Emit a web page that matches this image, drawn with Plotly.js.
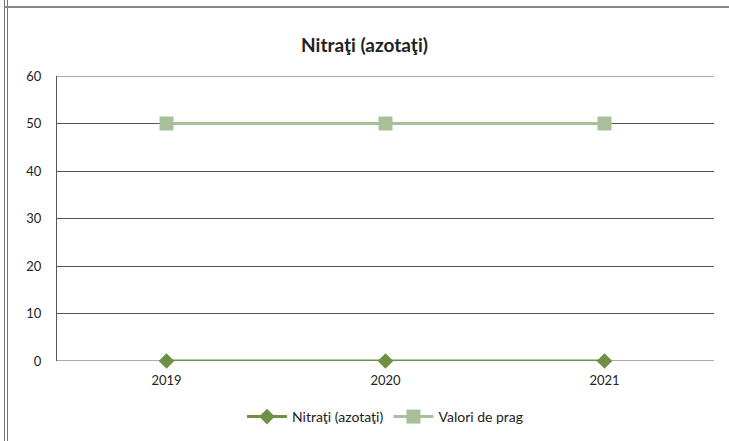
<!DOCTYPE html>
<html><head><meta charset="utf-8">
<script src="https://cdn.plot.ly/plotly-3.0.1.min.js"></script>
<style>html,body{margin:0;padding:0;background:#fff;}#wrap{position:relative;width:729px;height:441px;}
#c{position:absolute;left:0;top:0;width:729px;height:441px;}
.bl{position:absolute;left:4px;top:0;width:1px;height:441px;background:#777;}
.bl2{position:absolute;left:7px;top:0;width:1px;height:441px;background:#777;}
.bt{position:absolute;left:4px;top:6px;width:725px;height:2px;background:#888;}
</style></head>
<body><div id="wrap"><div id="c"></div><div class="bl"></div><div class="bl2"></div><div class="bt"></div></div>
<script>
const years = ['2019','2020','2021'];
const nitrati = [0, 0, 0];
const praguri = [50, 50, 50];
const yTicks = [0,10,20,30,40,50,60];

const font = 'Lato, "Open Sans", sans-serif';
const data = [
  {x: years, y: nitrati, name: 'Nitraţi (azotaţi)', type: 'scatter', mode: 'lines+markers', cliponaxis: false,
   line: {color: '#6f8f45', width: 3}, marker: {symbol: 'diamond', size: 12, color: '#6f8f45'}},
  {x: years, y: praguri, name: 'Valori de prag', type: 'scatter', mode: 'lines+markers', cliponaxis: false,
   line: {color: '#a8c09a', width: 3}, marker: {symbol: 'square', size: 14, color: '#a8c09a'}}
];
const layout = {
  width: 729, height: 441,
  margin: {l: 57, r: 15, t: 76, b: 80, autoexpand: false},
  paper_bgcolor: '#fff', plot_bgcolor: '#fff',
  title: {text: '<b>Nitraţi (azotaţi)</b>', x: 0.5, xanchor: 'center', y: 1 - 45/441, yanchor: 'middle',
          yref: 'container', font: {family: font, size: 19, color: '#222'}},
  xaxis: {type: 'category', range: [-0.5, 2.5], showgrid: false, zeroline: false, showline: false,
          ticks: '', ticklabelstandoff: 10, tickfont: {family: font, size: 13, color: '#222'}},
  yaxis: {range: [0, 60], tickvals: yTicks, showgrid: true, gridcolor: '#555', gridwidth: 1,
          zeroline: false, showline: true, linecolor: '#555', linewidth: 1, ticks: '',
          ticklabelstandoff: 12,
          tickfont: {family: font, size: 13, color: '#222'}},
  showlegend: true,
  legend: {orientation: 'h', x: 0.5, xanchor: 'center', yref: 'container', y: 1 - 417/441, yanchor: 'middle',
           font: {family: font, size: 14, color: '#222'}, itemwidth: 40, tracegroupgap: 0},
  shapes: [
    {type: 'line', xref: 'paper', yref: 'y', x0: 0, x1: 1, y0: 0, y1: 0, line: {color: '#555', width: 1}, layer: 'below'},
    {type: 'line', xref: 'paper', yref: 'y', x0: 0, x1: 1, y0: 60, y1: 60, line: {color: '#555', width: 1}, layer: 'below'}
  ]
};
Plotly.newPlot('c', data, layout, {displayModeBar: false, staticPlot: true});
</script></body></html>
